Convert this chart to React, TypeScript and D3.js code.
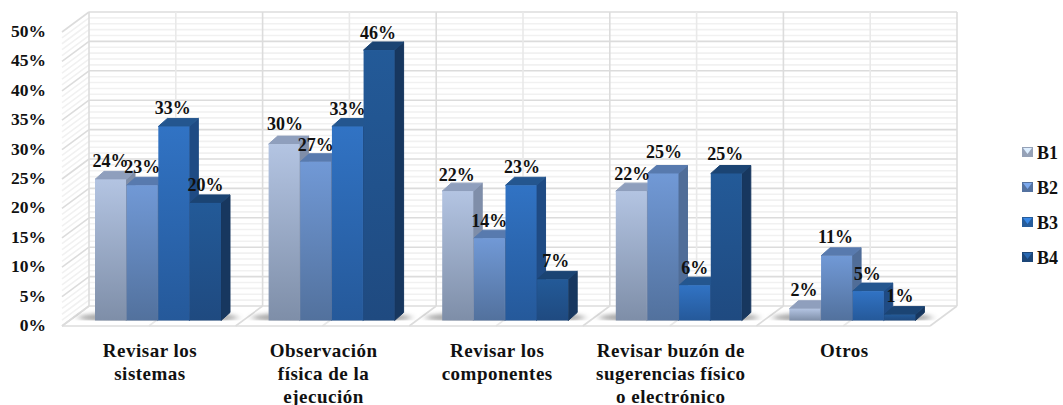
import React from "react";
import * as d3 from "d3";

const categories = [
  ["Revisar los", "sistemas"],
  ["Observación", "física de la", "ejecución"],
  ["Revisar los", "componentes"],
  ["Revisar buzón de", "sugerencias físico", "o electrónico"],
  ["Otros"],
];
const seriesNames = ["B1", "B2", "B3", "B4"];
const b1 = [24, 30, 22, 22, 2];
const b2 = [23, 27, 14, 25, 11];
const b3 = [33, 33, 23, 6, 5];
const b4 = [20, 46, 7, 25, 1];
const seriesValues = [b1, b2, b3, b4];
const yTicks = [0, 5, 10, 15, 20, 25, 30, 35, 40, 45, 50];

const faceTop = ["#b3c4e2", "#7199d6", "#3173c4", "#235a98"];
const faceBottom = ["#7e8ea8", "#52719d", "#25599a", "#1f4a80"];
const sideColor = ["#7f8ea9", "#506d98", "#1f4b84", "#17375f"];
const capColor = ["#8f9fbd", "#587aae", "#24568f", "#1b4473"];
const legendColor = ["#a6b3cc", "#5d7fb2", "#2a66ad", "#1f4e85"];

const W = 1063;
const H = 405;
const depthX = 27;
const depthY = 20;
const barDepthX = 9;
const barDepthY = 8;
const serif = "'Liberation Serif', 'Times New Roman', serif";

// Scales for the front plane of the plot box; the back wall is offset by the depth.
const yFront = d3.scaleLinear().domain([0, 50]).range([326, 32]);
const yBar = d3.scaleLinear().domain([0, 50]).range([320.5, 26.5]);
const xCat = d3.scaleBand().domain(d3.range(5).map(String)).range([62, 930]);
const xSeries = d3.scaleBand().domain(seriesNames).range([0, 126]).paddingInner(0.02);
const barOffset = 33;

// Per-label shifts [dx, dy] that keep crowded value labels readable.
const labelShift = [
  [[0, 0], [0, 0], [-1, 0], [0, 1]],
  [[1, -2], [0, 2], [0, 1], [-1, 1]],
  [[-1, 2], [0, 1], [1, 0], [3, 0]],
  [[1, 1], [1, -3], [0, 1], [-1, -1]],
  [[-1, 0], [-1, 0], [-1, 1], [0, 0]],
];

function poly(points: number[][]) {
  return points.map((p) => p.join(",")).join(" ");
}

export default function App() {
  const minor = d3.range(0, 50.01, 1);
  const x0 = xCat.range()[0];
  const x1 = xCat.range()[1];
  const bw = xSeries.bandwidth();
  return (
    <svg
      width={W}
      height={H}
      style={{ position: "absolute", left: 0, top: 0, background: "#fff" }}
      fontFamily={serif}
      fontWeight="bold"
    >
      <defs>
        {seriesNames.map((s, i) => (
          <linearGradient key={s} id={`face-${s}`} x1="0" y1="0" x2="0" y2="1">
            <stop offset="0" stopColor={faceTop[i]} />
            <stop offset="1" stopColor={faceBottom[i]} />
          </linearGradient>
        ))}
        <filter id="floor-shadow" x="-30%" y="-100%" width="160%" height="300%">
          <feGaussianBlur stdDeviation="3.5 2" />
        </filter>
        <clipPath id="floor-clip">
          <rect x={0} y={290} width={W} height={30.5} />
        </clipPath>
      </defs>

      {/* Back wall and side wall: pale minor lines, stronger lines every 5% */}
      <g fill="none">
        {minor.map((v) => {
          const major = v % 5 === 0;
          return (
            <g key={v} stroke={major ? "#dcdcdc" : "#f1f1f1"} strokeWidth={1.6}>
              <line x1={x0 + depthX} x2={x1 + depthX} y1={yFront(v) - depthY} y2={yFront(v) - depthY} />
              <line x1={x0} x2={x0 + depthX} y1={yFront(v)} y2={yFront(v) - depthY} />
            </g>
          );
        })}
        {d3.range(0, 5.01, 0.5).map((i) => {
          const x = x0 + (i * (x1 - x0)) / 5;
          const whole = Number.isInteger(i);
          return (
            <g key={i} stroke={whole ? "#dcdcdc" : "#e9e9e9"} strokeWidth={1.6}>
              <line x1={x + depthX} x2={x + depthX} y1={yFront(50) - depthY} y2={yFront(0) - depthY} />
              <line x1={x} x2={x + depthX} y1={yFront(0)} y2={yFront(0) - depthY} />
            </g>
          );
        })}
        <line x1={x0} x2={x1} y1={yFront(0)} y2={yFront(0)} stroke="#dcdcdc" strokeWidth={1.6} />
      </g>

      {/* Bars: soft floor shadow, then side, top and front faces */}
      {categories.map((_, c) => {
        const gx = xCat(String(c))! + barOffset;
        return (
          <g key={c}>
            <g clipPath="url(#floor-clip)">
              <ellipse
                cx={gx + 63}
                cy={yBar(0) - 3}
                rx={80}
                ry={6}
                fill="#555"
                opacity={0.5}
                filter="url(#floor-shadow)"
              />
            </g>
            {seriesNames.map((s, i) => {
              const v = seriesValues[i][c];
              const x = gx + xSeries(s)!;
              const y = yBar(v);
              const b = yBar(0);
              return (
                <g key={s}>
                  <polygon
                    fill={sideColor[i]}
                    stroke={sideColor[i]}
                    strokeLinejoin="round"
                    points={poly([
                      [x + bw, y],
                      [x + bw + barDepthX, y - barDepthY],
                      [x + bw + barDepthX, b - barDepthY],
                      [x + bw, b],
                    ])}
                  />
                  <polygon
                    fill={capColor[i]}
                    stroke={capColor[i]}
                    strokeLinejoin="round"
                    points={poly([
                      [x, y],
                      [x + barDepthX, y - barDepthY],
                      [x + bw + barDepthX, y - barDepthY],
                      [x + bw, y],
                    ])}
                  />
                  <rect x={x} y={y} width={bw} height={b - y} fill={`url(#face-${s})`} />
                </g>
              );
            })}
          </g>
        );
      })}

      {/* Value labels sit above each bar */}
      <g fontSize={18} fill="#111" textAnchor="middle">
        {categories.map((_, c) =>
          seriesNames.map((s, i) => {
            const v = seriesValues[i][c];
            const [dx, dy] = labelShift[c][i];
            return (
              <text
                key={s}
                x={xCat(String(c))! + barOffset + xSeries(s)! + bw / 2 + dx}
                y={yBar(v) - 12.5 + dy}
              >
                {v}%
              </text>
            );
          })
        )}
      </g>

      {/* Value axis */}
      <g fontSize={17.5} fill="#111" textAnchor="end">
        {yTicks.map((t) => (
          <text key={t} x={46} y={yFront(t) + 5}>
            {t}%
          </text>
        ))}
      </g>

      {/* Category axis */}
      <g fontSize={19} fill="#111" textAnchor="middle" letterSpacing={0.5}>
        {categories.map((lines, c) => (
          <text key={c}>
            {lines.map((line, k) => (
              <tspan key={k} x={xCat(String(c))! + barOffset + 55} y={357 + k * 23}>
                {line}
              </tspan>
            ))}
          </text>
        ))}
      </g>

      {/* Legend */}
      <g>
        {seriesNames.map((s, i) => {
          const c = legendColor[i];
          return (
            <g key={s} transform={`translate(1022,${152 + i * 35})`}>
              <rect x={0} y={-5} width={11} height={10} fill={d3.color(c)!.darker(0.3).formatHex()} />
              <polygon
                points={poly([[1, -4], [10, -4], [5.5, 2]])}
                fill={d3.color(c)!.brighter(0.8).formatHex()}
              />
              <text x={15} y={7} fontSize={18} fill="#111">
                {s}
              </text>
            </g>
          );
        })}
      </g>
    </svg>
  );
}
